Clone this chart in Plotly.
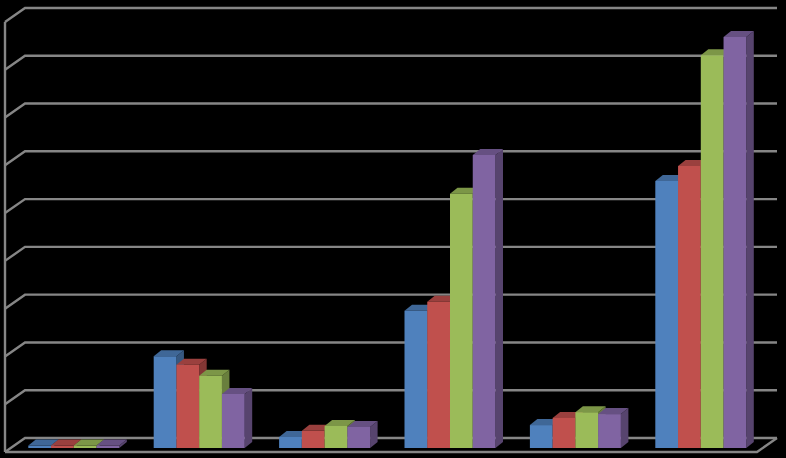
import plotly.graph_objects as go

categories = [0, 1, 2, 3, 4, 5]
series_a = [0.05, 1.92, 0.23, 2.87, 0.48, 5.59]
series_b = [0.05, 1.74, 0.36, 3.06, 0.63, 5.90]
series_c = [0.05, 1.51, 0.46, 5.32, 0.75, 8.22]
series_d = [0.05, 1.13, 0.44, 6.13, 0.71, 8.60]
series = [series_a, series_b, series_c, series_d]
colors = ["#4F81BD", "#C0504D", "#9BBB59", "#8064A2"]
ticks = list(range(10))

W, H = 786, 458
PX_X, PX_Y = 125.4, 47.78      # pixels per category / per value unit
ORIGIN_X, ORIGIN_Y = 73.8, 448
BAR_W = 22.75 / PX_X
GAP = 1 - 4 * BAR_W
DX, DY = 7.5 / PX_X, 6 / PX_Y  # bar depth
x_range = [-ORIGIN_X / PX_X, (W - ORIGIN_X) / PX_X]
y_range = [-(H - ORIGIN_Y) / PX_Y, ORIGIN_Y / PX_Y]

# wall / floor geometry in data units
WF_L, WF_R = (5 - ORIGIN_X) / PX_X, (757 - ORIGIN_X) / PX_X
WB_L, WB_R = (25 - ORIGIN_X) / PX_X, (777 - ORIGIN_X) / PX_X
FRONT0, BACK0 = -4 / PX_Y, 10 / PX_Y
GRID = "#868686"


def shade(hex_color, f):
    r, g, b = (int(hex_color[i:i + 2], 16) for i in (1, 3, 5))
    return f"rgb({round(r * f)},{round(g * f)},{round(b * f)})"


fig = go.Figure()

# walls and gridlines
wall_x, wall_y = [], []
for t in ticks:
    wall_x += [WF_L, WB_L, WB_R, None]
    wall_y += [FRONT0 + t, BACK0 + t, BACK0 + t, None]
wall_x += [WF_L, WF_L, None, WF_L, WF_R, WB_R]
wall_y += [FRONT0, FRONT0 + ticks[-1], None, FRONT0, FRONT0, BACK0]
fig.add_trace(go.Scatter(x=wall_x, y=wall_y, mode="lines",
                         line=dict(color=GRID, width=2.4), hoverinfo="skip", showlegend=False))

# depth faces of the bars, in series order
for s, (vals, col) in enumerate(zip(series, colors)):
    for c, v in zip(categories, vals):
        left = c - 2 * BAR_W + s * BAR_W
        right = left + BAR_W
        fig.add_trace(go.Scatter(
            x=[right, right + DX, right + DX, right, right],
            y=[0, DY, v + DY, v, 0],
            mode="lines", fill="toself", fillcolor=shade(col, 0.68),
            line=dict(width=0), hoverinfo="skip", showlegend=False))
        fig.add_trace(go.Scatter(
            x=[left, right, right + DX, left + DX, left],
            y=[v, v, v + DY, v + DY, v],
            mode="lines", fill="toself", fillcolor=shade(col, 0.8),
            line=dict(width=0), hoverinfo="skip", showlegend=False))

# front faces, on an overlay so they sit above all depth faces
for vals, col in zip(series, colors):
    fig.add_trace(go.Bar(x=categories, y=vals, marker=dict(color=col, line=dict(width=0)),
                         xaxis="x2", yaxis="y2", showlegend=False))

axis_common = dict(visible=False, fixedrange=True)
fig.update_layout(
    width=W, height=H, autosize=False,
    margin=dict(l=0, r=0, t=0, b=0),
    paper_bgcolor="black", plot_bgcolor="black",
    barmode="group", bargap=GAP, bargroupgap=0,
    showlegend=False,
    xaxis=dict(range=x_range, domain=[0, 1], **axis_common),
    yaxis=dict(range=y_range, domain=[0, 1], **axis_common),
    xaxis2=dict(range=x_range, overlaying="x", **axis_common),
    yaxis2=dict(range=y_range, overlaying="y", **axis_common),
)

fig.write_html("out.html", config={"displayModeBar": False},
               post_script="document.body.style.margin='0';document.body.style.background='black';document.body.style.overflow='hidden';")
